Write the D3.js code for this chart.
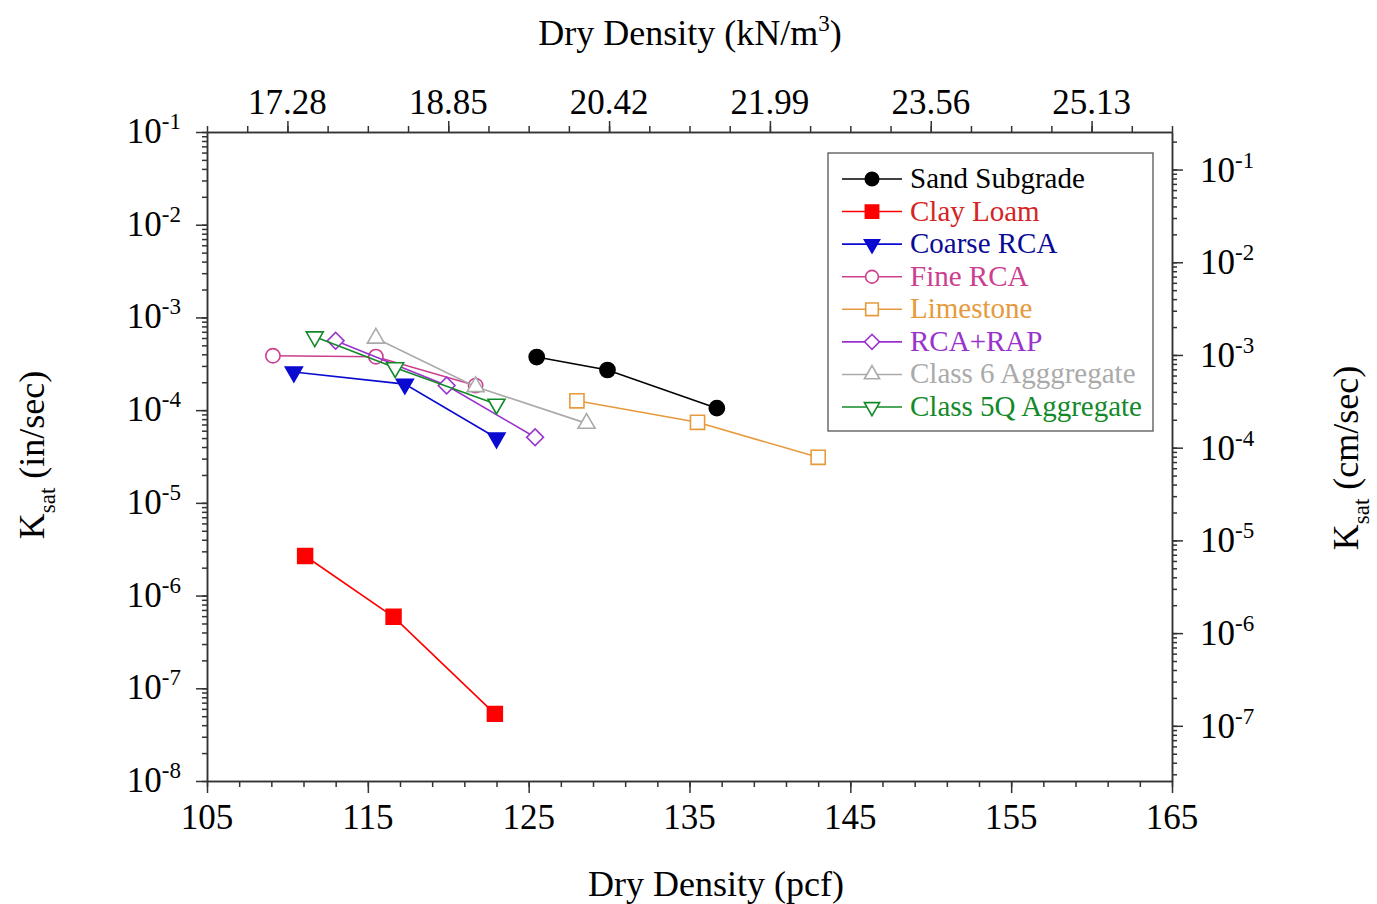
<!DOCTYPE html>
<html>
<head>
<meta charset="utf-8">
<script src="https://cdn.jsdelivr.net/npm/d3@7"></script>
<style>
  body { margin: 0; background: #fff; }
  text { font-family: "Liberation Serif", "Times New Roman", serif; }
  .axis path, .axis line { stroke: #333; stroke-width: 1.5; }
</style>
</head>
<body>
<div id="chart"></div>
<script>
// data (dry density in pcf, Ksat in in/sec)
const sandPcf = [125.5, 129.9, 136.7];
const sandK = [3.74e-4, 2.71e-4, 1.05e-4];
const clayPcf = [111.1, 116.6, 122.9];
const clayK = [2.67e-6, 5.9e-7, 5.3e-8];
const coarsePcf = [110.4, 117.3, 123.0];
const coarseK = [2.58e-4, 1.91e-4, 5.0e-5];
const finePcf = [109.1, 115.5, 121.7];
const fineK = [3.86e-4, 3.77e-4, 1.84e-4];
const limePcf = [128.0, 135.5, 143.0];
const limeK = [1.26e-4, 7.4e-5, 3.1e-5];
const rapPcf = [113.0, 119.9, 125.4];
const rapK = [5.6e-4, 1.84e-4, 5.1e-5];
const c6Pcf = [115.5, 121.7, 128.6];
const c6K = [5.96e-4, 1.79e-4, 7.2e-5];
const c5qPcf = [111.7, 116.7, 123.0];
const c5qK = [6.19e-4, 2.87e-4, 1.16e-4];

const seriesNames = ["Sand Subgrade", "Clay Loam", "Coarse RCA", "Fine RCA", "Limestone", "RCA+RAP", "Class 6 Agggregate", "Class 5Q Aggregate"];

const bottomTicks = [105, 115, 125, 135, 145, 155, 165];
const topTicks = [110, 120, 130, 140, 150, 160];
const leftExps = [-1, -2, -3, -4, -5, -6, -7, -8];
const rightExps = [-1, -2, -3, -4, -5, -6, -7];
const PCF_TO_KN = 0.157087;
const IN_TO_CM = 2.54;

const series = [
  { name: seriesNames[0], x: sandPcf, y: sandK, color: "#000000", text: "#000000", sym: d3.symbolCircle, size: 180, fill: true, rot: 0 },
  { name: seriesNames[1], x: clayPcf, y: clayK, color: "#ff0000", text: "#d42424", sym: d3.symbolSquare, size: 220, fill: true, rot: 0 },
  { name: seriesNames[2], x: coarsePcf, y: coarseK, color: "#0a0ad0", text: "#0a0a96", sym: d3.symbolTriangle, size: 125, fill: true, rot: 180 },
  { name: seriesNames[3], x: finePcf, y: fineK, color: "#cc3f8f", text: "#cc3f8f", sym: d3.symbolCircle, size: 160, fill: false, rot: 0 },
  { name: seriesNames[4], x: limePcf, y: limeK, color: "#e69a3c", text: "#e69a3c", sym: d3.symbolSquare, size: 200, fill: false, rot: 0 },
  { name: seriesNames[5], x: rapPcf, y: rapK, color: "#9933cc", text: "#9933cc", sym: d3.symbolSquare, size: 140, fill: false, rot: 45 },
  { name: seriesNames[6], x: c6Pcf, y: c6K, color: "#aaaaaa", text: "#aaaaaa", sym: d3.symbolTriangle, size: 125, fill: false, rot: 0 },
  { name: seriesNames[7], x: c5qPcf, y: c5qK, color: "#138a2a", text: "#138a2a", sym: d3.symbolTriangle, size: 125, fill: false, rot: 180 }
];

const width = 1377, height = 904;
const plot = { left: 207, right: 1172, top: 132, bottom: 781 };

const svg = d3.select("#chart").append("svg")
  .attr("width", width).attr("height", height);

const x = d3.scaleLinear().domain([105, 165]).range([plot.left, plot.right]);
const y = d3.scaleLog().domain([1e-8, 1e-1]).range([plot.bottom, plot.top]);
const yR = d3.scaleLog().domain([1e-8 * IN_TO_CM, 1e-1 * IN_TO_CM]).range([plot.bottom, plot.top]);

// minor tick values for log axes
function logMinors(scale) {
  const [lo, hi] = scale.domain();
  const out = [];
  for (let e = -9; e <= 0; e++) {
    for (let m = 1; m <= 9; m++) {
      const v = m * Math.pow(10, e);
      if (v >= lo * 0.9999 && v <= hi * 1.0001) out.push(v);
    }
  }
  return out;
}

function addAxis(axisFn, scale, values, size, transform) {
  const g = svg.append("g").attr("class", "axis").attr("transform", transform)
    .call(axisFn(scale).tickValues(values).tickSize(size).tickSizeOuter(0).tickFormat(""));
  g.select(".domain").attr("stroke", "#333").attr("stroke-width", 1.5);
  g.selectAll(".tick line").attr("stroke", "#333").attr("stroke-width", 1.5);
  return g;
}

// bottom axis
addAxis(d3.axisBottom, x, d3.range(105, 165.01, 2), 6, `translate(0,${plot.bottom})`);
addAxis(d3.axisBottom, x, bottomTicks, 12, `translate(0,${plot.bottom})`);
// top axis (pcf positions, kN/m3 labels)
addAxis(d3.axisTop, x, d3.range(105, 165.01, 2.5), 6, `translate(0,${plot.top})`);
addAxis(d3.axisTop, x, topTicks, 11, `translate(0,${plot.top})`);
// left axis
addAxis(d3.axisLeft, y, logMinors(y), 5, `translate(${plot.left},0)`);
addAxis(d3.axisLeft, y, leftExps.map(e => Math.pow(10, e)), 11, `translate(${plot.left},0)`);
// right axis
addAxis(d3.axisRight, yR, logMinors(yR), 5, `translate(${plot.right},0)`);
addAxis(d3.axisRight, yR, rightExps.map(e => Math.pow(10, e)), 11, `translate(${plot.right},0)`);

// tick labels
svg.append("g").selectAll("text").data(bottomTicks).join("text")
  .attr("x", d => x(d)).attr("y", plot.bottom + 48)
  .attr("text-anchor", "middle").attr("font-size", 35).text(d => d);

svg.append("g").selectAll("text").data(topTicks).join("text")
  .attr("x", d => x(d)).attr("y", plot.top - 18)
  .attr("text-anchor", "middle").attr("font-size", 35).text(d => (d * PCF_TO_KN).toFixed(2));

function powLabel(g, anchor, xPos, yPos, exp) {
  const t = g.append("text").attr("x", xPos).attr("y", yPos)
    .attr("text-anchor", anchor).attr("font-size", 35);
  t.append("tspan").text("10");
  t.append("tspan").attr("dy", -14).attr("font-size", 23).text(exp);
}

const leftLab = svg.append("g");
leftExps.forEach(e => powLabel(leftLab, "end", 181, y(Math.pow(10, e)) + 11, e));
const rightLab = svg.append("g");
rightExps.forEach(e => powLabel(rightLab, "start", 1200, yR(Math.pow(10, e)) + 12, e));

// axis titles
svg.append("text").attr("x", 716).attr("y", 896).attr("text-anchor", "middle")
  .attr("font-size", 36).text("Dry Density (pcf)");

const topTitle = svg.append("text").attr("x", 690).attr("y", 45).attr("text-anchor", "middle")
  .attr("font-size", 36);
topTitle.append("tspan").text("Dry Density (kN/m");
topTitle.append("tspan").attr("dy", -14).attr("font-size", 23).text("3");
topTitle.append("tspan").attr("dy", 14).text(")");

function kLabel(cx, cy, unit) {
  const t = svg.append("text").attr("transform", `translate(${cx},${cy}) rotate(-90)`)
    .attr("text-anchor", "middle").attr("font-size", 36);
  t.append("tspan").text("K");
  t.append("tspan").attr("dy", 11).attr("font-size", 23).text("sat");
  t.append("tspan").attr("dy", -11).text(" " + unit);
}
kLabel(44, 455, "(in/sec)");
kLabel(1358, 458, "(cm/sec)");

// data
const line = d3.line().x(d => x(d[0])).y(d => y(d[1]));
const marks = svg.append("g");
series.forEach(s => {
  const pts = s.x.map((v, i) => [v, s.y[i]]);
  marks.append("path").datum(pts).attr("d", line)
    .attr("fill", "none").attr("stroke", s.color).attr("stroke-width", 1.6);
  marks.selectAll(null).data(pts).join("path")
    .attr("d", d3.symbol().type(s.sym).size(s.size))
    .attr("transform", d => `translate(${x(d[0])},${y(d[1])}) rotate(${s.rot})`)
    .attr("fill", s.fill ? s.color : "#fff")
    .attr("stroke", s.color).attr("stroke-width", 1.6);
});

// legend
const legend = svg.append("g");
legend.append("rect").attr("x", 828).attr("y", 153).attr("width", 325).attr("height", 278)
  .attr("fill", "#fff").attr("stroke", "#555").attr("stroke-width", 1.3);
const rowY = d3.scaleLinear().domain([0, 7]).range([179, 407]);
series.forEach((s, i) => {
  const ly = rowY(i);
  legend.append("line").attr("x1", 842).attr("x2", 902).attr("y1", ly).attr("y2", ly)
    .attr("stroke", s.color).attr("stroke-width", 1.6);
  legend.append("path").attr("d", d3.symbol().type(s.sym).size(s.size * 0.8))
    .attr("transform", `translate(872,${ly}) rotate(${s.rot})`)
    .attr("fill", s.fill ? s.color : "#fff").attr("stroke", s.color).attr("stroke-width", 1.6);
  legend.append("text").attr("x", 910).attr("y", ly + 9).attr("font-size", 29)
    .attr("fill", s.text).text(s.name);
});
</script>
</body>
</html>
